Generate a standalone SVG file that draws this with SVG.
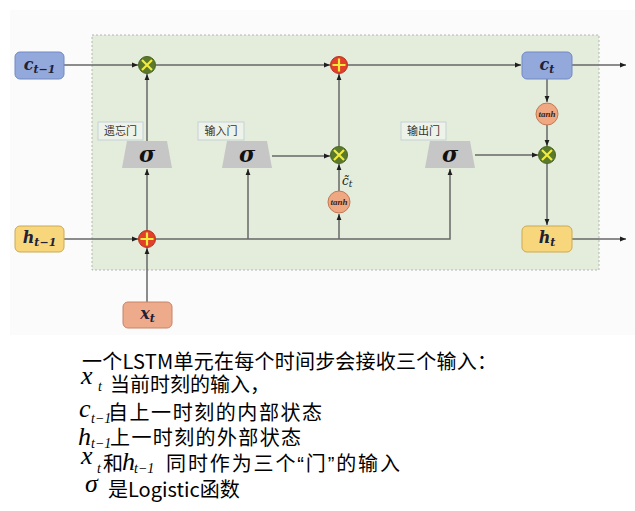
<svg xmlns="http://www.w3.org/2000/svg" width="635" height="511" viewBox="0 0 635 511">
<defs>
<style>
.conn{fill:none;stroke:#676767;stroke-width:1.5}
.box-c{fill:#93a9dc;stroke:#7088c4;stroke-width:1}
.box-h{fill:#f8d77c;stroke:#c9a955;stroke-width:1}
.box-x{fill:#eeab8b;stroke:#c58466;stroke-width:1}
.lbl{font-family:"DejaVu Serif","Liberation Serif",serif;font-style:italic;font-weight:bold;font-size:16px;fill:#1d2238}
.mul{fill:#5b792b;stroke:#4a6420;stroke-width:1}
.add{fill:#e3402a;stroke:#b5301c;stroke-width:1}
.sym{stroke:#f2ea3c;stroke-width:2.2;fill:none}
.tanh{fill:#f0a882;stroke:#c07a55;stroke-width:1}
.tanht{font-family:"Liberation Serif",serif;font-style:italic;font-weight:bold;font-size:9px;fill:#3a2418}
.gate{fill:#c6c6c6}
.sig{font-family:"DejaVu Serif","Liberation Serif",serif;font-style:italic;font-weight:bold;font-size:22px;fill:#111}
.gl{fill:#eef3ea;stroke:#c3d1d8;stroke-width:1}
.glt{font-family:"Noto Sans CJK SC",sans-serif;font-size:11px;fill:#333}
.cjk{font-family:"Noto Sans CJK SC","Liberation Sans",sans-serif;font-size:20px;fill:#000}
.m{font-family:"Liberation Serif","Times New Roman",serif;font-style:italic;font-size:26px;fill:#000}
.ms{font-family:"Liberation Serif","Times New Roman",serif;font-style:italic;font-size:14px;fill:#000}
</style>
<marker id="arr" viewBox="0 0 10 10" refX="10" refY="5" markerWidth="6" markerHeight="6" markerUnits="userSpaceOnUse" orient="auto">
<path d="M0,1 L10,5 L0,9 z" fill="#1e1e1e"/>
</marker>
</defs>

<rect x="10" y="10" width="625" height="325" fill="#fbfbfb"/>
<rect id="panel" x="92" y="35" width="507" height="235" fill="#e4ecdb" stroke="#a3a9a6" stroke-width="0.8" stroke-dasharray="2,2"/>

<g id="connectors">
<path class="conn" d="M64,65 H138" marker-end="url(#arr)"/>
<path class="conn" d="M156,65 H330" marker-end="url(#arr)"/>
<path class="conn" d="M348,65 H521" marker-end="url(#arr)"/>
<path class="conn" d="M572,65 H626" marker-end="url(#arr)"/>
<path class="conn" d="M147,141 V74" marker-end="url(#arr)"/>
<path class="conn" d="M272,156 H330" marker-end="url(#arr)"/>
<path class="conn" d="M339,146 V74" marker-end="url(#arr)"/>
<path class="conn" d="M339,191 V164" marker-end="url(#arr)"/>
<path class="conn" d="M475,155 H538" marker-end="url(#arr)"/>
<path class="conn" d="M547,79 V102" marker-end="url(#arr)"/>
<path class="conn" d="M547,125 V146" marker-end="url(#arr)"/>
<path class="conn" d="M547,164 V225" marker-end="url(#arr)"/>
<path class="conn" d="M572,239 H626" stroke="#333" marker-end="url(#arr)"/>
<path class="conn" d="M64,239 H138" marker-end="url(#arr)"/>
<path class="conn" d="M147,302 V248" marker-end="url(#arr)"/>
<path class="conn" d="M147,230 V169" marker-end="url(#arr)"/>
<path class="conn" d="M156,239 H450 V169" marker-end="url(#arr)"/>
<path class="conn" d="M248,239 V169" marker-end="url(#arr)"/>
<path class="conn" d="M339,239 V214" marker-end="url(#arr)"/>
</g>

<g id="c_prev">
<rect class="box-c" x="15" y="52" width="49" height="27" rx="5"/>
<text class="lbl" x="39.5" y="70" text-anchor="middle">c<tspan font-size="11" dy="3">t−1</tspan></text>
</g>
<g id="h_prev">
<rect class="box-h" x="15" y="226" width="49" height="26" rx="5"/>
<text class="lbl" x="39.5" y="243" text-anchor="middle">h<tspan font-size="11" dy="3">t−1</tspan></text>
</g>
<g id="x_t">
<rect class="box-x" x="123" y="302" width="49" height="26" rx="5"/>
<text class="lbl" x="147.5" y="319" text-anchor="middle">x<tspan font-size="11" dy="3">t</tspan></text>
</g>
<g id="c_t">
<rect class="box-c" x="522" y="52" width="50" height="27" rx="5"/>
<text class="lbl" x="547" y="70" text-anchor="middle">c<tspan font-size="11" dy="3">t</tspan></text>
</g>
<g id="h_t">
<rect class="box-h" x="522" y="226" width="50" height="26" rx="5"/>
<text class="lbl" x="547" y="243" text-anchor="middle">h<tspan font-size="11" dy="3">t</tspan></text>
</g>

<g id="mul_forget">
<circle class="mul" cx="147" cy="65" r="8.5"/>
<path class="sym" d="M142,60 L152,70 M152,60 L142,70"/>
</g>
<g id="add_cell">
<circle class="add" cx="339" cy="65" r="8.5"/>
<path class="sym" d="M339,58.5 V71.5 M332.5,65 H345.5"/>
</g>
<g id="mul_input">
<circle class="mul" cx="339" cy="155" r="8.5"/>
<path class="sym" d="M334,150 L344,160 M344,150 L334,160"/>
</g>
<g id="mul_output">
<circle class="mul" cx="547" cy="155" r="8.5"/>
<path class="sym" d="M542,150 L552,160 M552,150 L542,160"/>
</g>
<g id="add_input">
<circle class="add" cx="147" cy="239" r="8.5"/>
<path class="sym" d="M147,232.5 V245.5 M140.5,239 H153.5"/>
</g>

<g id="tanh_out">
<circle class="tanh" cx="547" cy="114" r="11"/>
<text class="tanht" x="547" y="117" text-anchor="middle">tanh</text>
</g>
<g id="tanh_cand">
<circle class="tanh" cx="339" cy="202" r="11"/>
<text class="tanht" x="339" y="205" text-anchor="middle">tanh</text>
<text x="342" y="185" font-family="DejaVu Serif,serif" font-style="italic" font-size="12" fill="#222">c̃<tspan font-size="9" dy="2">t</tspan></text>
</g>

<g id="forget_gate">
<rect class="gl" x="98" y="122" width="45" height="18"/>
<text class="glt" x="120.5" y="135" text-anchor="middle">遗忘门</text>
<polygon class="gate" points="127,141 167,141 172,168 122,168"/>
<text class="sig" x="147" y="162" text-anchor="middle">σ</text>
</g>
<g id="input_gate">
<rect class="gl" x="198" y="122" width="46" height="18"/>
<text class="glt" x="221" y="135" text-anchor="middle">输入门</text>
<polygon class="gate" points="227,141 267,141 272,168 222,168"/>
<text class="sig" x="247" y="162" text-anchor="middle">σ</text>
</g>
<g id="output_gate">
<rect class="gl" x="401" y="122" width="45" height="18"/>
<text class="glt" x="423.5" y="135" text-anchor="middle">输出门</text>
<polygon class="gate" points="430,141 470,141 475,168 425,168"/>
<text class="sig" x="450" y="162" text-anchor="middle">σ</text>
</g>

<g id="notes">
<text class="cjk" x="82" y="369" textLength="415">一个LSTM单元在每个时间步会接收三个输入：</text>
<text class="m" x="81" y="384">x</text><text class="ms" x="98" y="391">t</text>
<text class="cjk" x="110" y="392">当前时刻的输入，</text>
<text class="m" x="79" y="417">c</text><text class="ms" x="91" y="423">t−1</text>
<text class="cjk" x="108" y="420" textLength="214">自上一时刻的内部状态</text>
<text class="m" x="78" y="445">h</text><text class="ms" x="91" y="448">t−1</text>
<text class="cjk" x="110" y="445" textLength="191">上一时刻的外部状态</text>
<text class="m" x="81" y="464">x</text><text class="ms" x="97" y="473">t</text>
<text class="cjk" x="103" y="471">和</text>
<text class="m" x="122" y="470">h</text><text class="ms" x="134" y="473">t−1</text>
<text class="cjk" x="166" y="471" textLength="234">同时作为三个<tspan font-family="Liberation Sans">“</tspan>门<tspan font-family="Liberation Sans">”</tspan>的输入</text>
<text class="m" x="85" y="492">σ</text>
<text class="cjk" x="108" y="497">是Logistic函数</text>
</g>
</svg>
